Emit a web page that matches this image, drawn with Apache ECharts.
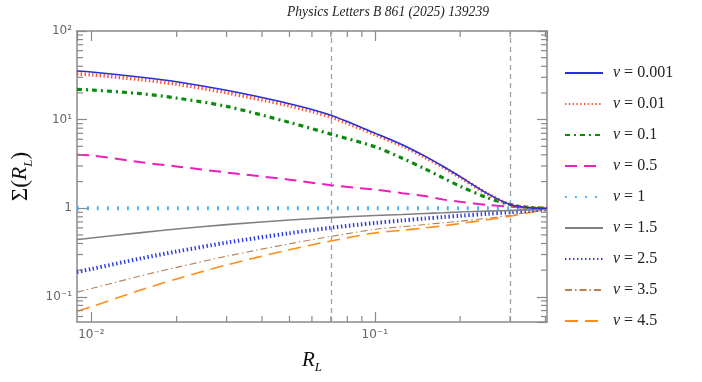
<!DOCTYPE html>
<html>
<head>
<meta charset="utf-8">
<script src="https://cdn.jsdelivr.net/npm/echarts@6/dist/echarts.min.js"></script>
<style>html,body{margin:0;padding:0;background:#fff}#c{width:702px;height:382px}</style>
</head>
<body>
<div id="c"></div>
<script>
// ---- data ----
const xMin = 0.0089, xMax = 0.405, yMin = 0.052, yMax = 100;
const RL = [0.0089, 0.01, 0.015, 0.02, 0.03, 0.05, 0.07, 0.1, 0.125, 0.15, 0.175, 0.2, 0.25, 0.3, 0.35, 0.405];
const nuLabels = ['0.001', '0.01', '0.1', '0.5', '1', '1.5', '2.5', '3.5', '4.5'];
const s_0001 = [35.3, 34.4, 30.1, 26.8, 21.4, 15.1, 11.2, 7.04, 5.20, 3.87, 2.94, 2.27, 1.46, 1.10, 1.013, 1.0];
const s_001  = [32.8, 32.1, 28.2, 25.1, 20.1, 14.3, 10.7, 6.80, 5.05, 3.78, 2.87, 2.23, 1.45, 1.10, 1.013, 1.0];
const s_01   = [21.9, 21.6, 19.6, 17.5, 14.1, 9.3, 6.86, 4.95, 3.67, 2.79, 2.18, 1.77, 1.31, 1.10, 1.02, 1.0];
const s_05   = [4.00, 3.95, 3.30, 2.96, 2.53, 2.10, 1.82, 1.62, 1.48, 1.37, 1.25, 1.18, 1.09, 1.04, 1.01, 1.0];
const s_1    = [1, 1, 1, 1, 1, 1, 1, 1, 1, 1, 1, 1, 1, 1, 1, 1];
const s_15   = [0.443, 0.461, 0.531, 0.582, 0.653, 0.736, 0.783, 0.827, 0.851, 0.873, 0.890, 0.906, 0.927, 0.944, 0.959, 0.974];
const s_25   = [0.191, 0.206, 0.272, 0.325, 0.409, 0.523, 0.602, 0.682, 0.728, 0.765, 0.796, 0.821, 0.865, 0.901, 0.937, 0.974];
const s_35   = [0.113, 0.124, 0.173, 0.215, 0.287, 0.397, 0.480, 0.578, 0.618, 0.654, 0.686, 0.713, 0.771, 0.834, 0.901, 0.974];
const s_45   = [0.0686, 0.0773, 0.120, 0.159, 0.229, 0.340, 0.427, 0.526, 0.564, 0.599, 0.634, 0.672, 0.741, 0.812, 0.889, 0.974];
const vLines = [0.07, 0.3];
const xMinorTicks = [0.02, 0.03, 0.04, 0.05, 0.06, 0.07, 0.08, 0.09, 0.2, 0.3, 0.4];
const yMinorTicks = [0.06, 0.07, 0.08, 0.09, 0.2, 0.3, 0.4, 0.5, 0.6, 0.7, 0.8, 0.9, 2, 3, 4, 5, 6, 7, 8, 9, 20, 30, 40, 50, 60, 70, 80, 90];
const xTickLabels = {'-2': '10⁻²', '-1': '10⁻¹'};
const yTickLabels = {'-1': '10⁻¹', '0': '1', '1': '10¹', '2': '10²'};

const allSeries = [s_0001, s_001, s_01, s_05, s_1, s_15, s_25, s_35, s_45];
const styles = [
  {color: '#2630d8', width: 1.6, type: 'solid'},
  {color: '#ff5533', width: 3.6, type: [1.4, 2.4]},
  {color: '#0b8a0b', width: 3.2, type: [5, 4, 2, 4]},
  {color: '#ee1ebe', width: 2, type: [12, 7]},
  {color: '#35b4f8', width: 4, type: [1.8, 8.2]},
  {color: '#808080', width: 1.6, type: 'solid'},
  {color: '#2a38e6', width: 4, type: [1.4, 2.6]},
  {color: '#b98256', width: 1.1, type: [7, 3, 1.5, 3]},
  {color: '#ff8c1a', width: 1.6, type: [13, 7]}
];

const frame = '#8a8a8a';
function isPow(v) { const l = Math.log10(v); return Math.abs(l - Math.round(l)) < 1e-6 ? Math.round(l) : null; }

const chart = echarts.init(document.getElementById('c'), null, {renderer: 'canvas'});
const series = allSeries.map((arr, i) => ({
  name: nuLabels[i],
  type: 'line',
  data: RL.map((x, j) => [x, arr[j]]),
  smooth: 0.3,
  symbol: 'none',
  silent: true,
  z: 10 - i,
  lineStyle: {color: styles[i].color, width: styles[i].width, type: styles[i].type},
  itemStyle: {color: styles[i].color}
}));
series[0].markLine = {
  silent: true, symbol: 'none', label: {show: false},
  lineStyle: {color: '#a0a0a0', width: 1.3, type: [5, 4]},
  data: vLines.map(v => ({xAxis: v}))
};
const tickStyle = {stroke: frame, lineWidth: 1.2};
series.push({
  type: 'custom', name: 'xminor', silent: true, clip: false, z: 20,
  data: xMinorTicks.map(v => [v, 1]),
  encode: {x: 0, y: 1},
  renderItem: (p, api) => {
    const b = api.coord([api.value(0), yMin]);
    const t = api.coord([api.value(0), yMax]);
    return {type: 'group', children: [
      {type: 'line', shape: {x1: b[0], y1: b[1], x2: b[0], y2: b[1] - 6}, style: tickStyle},
      {type: 'line', shape: {x1: t[0], y1: t[1], x2: t[0], y2: t[1] + 6}, style: tickStyle}
    ]};
  }
});
series.push({
  type: 'custom', name: 'yminor', silent: true, clip: false, z: 20,
  data: yMinorTicks.map(v => [0.1, v]),
  encode: {x: 0, y: 1},
  renderItem: (p, api) => {
    const l = api.coord([xMin, api.value(1)]);
    const r = api.coord([xMax, api.value(1)]);
    return {type: 'group', children: [
      {type: 'line', shape: {x1: l[0], y1: l[1], x2: l[0] + 6, y2: l[1]}, style: tickStyle},
      {type: 'line', shape: {x1: r[0], y1: r[1], x2: r[0] - 6, y2: r[1]}, style: tickStyle}
    ]};
  }
});

const axisCommon = {
  type: 'log', logBase: 10,
  axisLine: {show: true, onZero: false, lineStyle: {color: frame, width: 1.5}},
  axisTick: {show: true, inside: true, length: 10, lineStyle: {color: frame, width: 1.2}},
  splitLine: {show: false},
  minorTick: {show: false}
};
const serif = "'Liberation Serif', 'DejaVu Serif', serif";

chart.setOption({
  animation: false,
  backgroundColor: '#fff',
  title: {
    text: 'Physics Letters B 861 (2025) 139239',
    left: 282, top: 0,
    textStyle: {fontFamily: serif, fontStyle: 'italic', fontWeight: 'normal', fontSize: 13.6, color: '#222'}
  },
  grid: {left: 77, right: 155, top: 31, bottom: 60, containLabel: false},
  legend: {
    data: nuLabels,
    orient: 'vertical',
    left: 559, top: 60,
    itemWidth: 38, itemHeight: 14, itemGap: 15,
    itemStyle: {opacity: 0},
    formatter: n => '{i|ν} = ' + n,
    textStyle: {
      fontFamily: serif, fontSize: 16, lineHeight: 16, color: '#222', padding: [0, 0, 0, 5],
      rich: {i: {fontFamily: serif, fontStyle: 'italic', fontSize: 16, lineHeight: 16, color: '#222'}}
    }
  },
  xAxis: [
    Object.assign({}, axisCommon, {
      position: 'bottom', min: xMin, max: xMax,
      name: '{i|R}{s|L}', nameLocation: 'middle', nameGap: 28,
      nameTextStyle: {rich: {
        i: {fontFamily: serif, fontStyle: 'italic', fontSize: 21, color: '#111', lineHeight: 24, verticalAlign: 'top'},
        s: {fontFamily: serif, fontStyle: 'italic', fontSize: 13, color: '#111', lineHeight: 14, verticalAlign: 'bottom'}
      }},
      axisLabel: {
        show: true, margin: 7, color: '#666', fontSize: 12, fontFamily: "'DejaVu Sans', sans-serif",
        showMinLabel: false, showMaxLabel: false,
        formatter: v => { const k = isPow(v); return k === null ? '' : (xTickLabels[String(k)] || ''); }
      }
    }),
    Object.assign({}, axisCommon, {
      position: 'top', min: xMin, max: xMax, axisLabel: {show: false}
    })
  ],
  yAxis: [
    Object.assign({}, axisCommon, {
      position: 'left', min: yMin, max: yMax,
      name: '{r|Σ(}{i|R}{s|L}{r|)}', nameLocation: 'middle', nameGap: 23, nameRotate: 90,
      nameTextStyle: {rich: {
        r: {fontFamily: serif, fontSize: 23, color: '#111', lineHeight: 25, verticalAlign: 'top'},
        i: {fontFamily: serif, fontStyle: 'italic', fontSize: 22, color: '#111', lineHeight: 25, verticalAlign: 'top'},
        s: {fontFamily: serif, fontStyle: 'italic', fontSize: 13, color: '#111', lineHeight: 14, verticalAlign: 'bottom'}
      }},
      axisLabel: {
        show: true, margin: 5, color: '#666', fontSize: 12, fontFamily: "'DejaVu Sans', sans-serif",
        showMinLabel: false, showMaxLabel: true,
        formatter: v => { const k = isPow(v); return k === null ? '' : (yTickLabels[String(k)] || ''); }
      }
    }),
    Object.assign({}, axisCommon, {
      position: 'right', min: yMin, max: yMax, axisLabel: {show: false}
    })
  ],
  series: series
});
</script>
</body>
</html>
